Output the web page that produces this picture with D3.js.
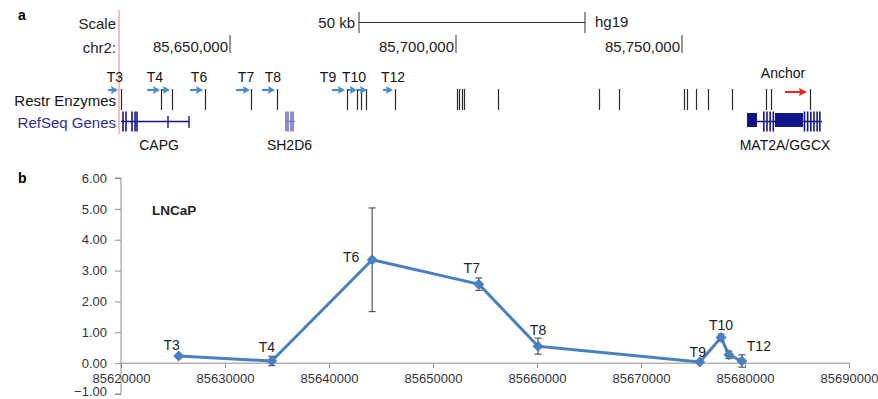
<!DOCTYPE html>
<html><head><meta charset="utf-8">
<script src="https://cdn.jsdelivr.net/npm/d3@7"></script>
<style>
html,body{margin:0;padding:0;background:#fff;}
svg{display:block;font-family:"Liberation Sans",Arial,sans-serif;}
</style></head>
<body><svg id="c" width="878" height="399"></svg>
<script>
// ---------- Panel a data (genomic coordinates, hg19 chr2) ----------
const chrTicks = [85650000, 85700000, 85750000];
const scaleBarStart = 85678540;
const scaleBarLength = 50000;
const highlightPos = 85625450;
const siteLabels = ["T3","T4","T6","T7","T8","T9","T10","T12"];
const siteLabelPos = [85624557, 85633407, 85643142, 85653540, 85659513, 85671682, 85677434, 85686062];
const arrowStarts = [85623009, 85631637, 85634956, 85641150, 85651327, 85657080, 85672566, 85676106, 85678319, 85683850];
const arrowEnds   = [85625221, 85634513, 85636726, 85644027, 85654425, 85659956, 85675443, 85678097, 85680310, 85686062];
const restrSites = [85625885, 85634735, 85637168, 85644469, 85654646, 85660398, 85675885, 85678097,
  85678982, 85680088, 85686504, 85700221, 85700664, 85701327, 85701770, 85709292, 85731637,
  85736062, 85750442, 85751106, 85753097, 85755752, 85761062, 85768584, 85769690, 85778319];
const anchorStart = 85772790, anchorEnd = 85777660, anchorLabelPos = 85772350;
// genes: name, span, tall exon bars, mid bars, thick blocks, label position
const geneNames = ["CAPG", "SH2D6", "MAT2A/GGCX"];
const geneSpans = [[85625885, 85640930], [85662170, 85664380], [85764381, 85780974]];
const geneLabelPos = [85634300, 85663160, 85772800];
const geneTallBars = [
  [85626330, 85626990, 85628320, 85628990, 85629430],
  [85662389, 85662832, 85663495, 85663938],
  [85768100, 85768800, 85769500, 85770200, 85777100, 85777800, 85778500, 85779200, 85779900, 85780500]
];
const geneMidBars = [[85636280, 85640930], [], []];
const geneBlocks = [[], [], [[85764381, 85766593], [85770576, 85776771]]];

// ---------- Panel b data ----------
const pointLabels = ["T3","T4","T6","T7","T8","T9","T10","","T12"];
const positions = [85625550, 85634500, 85644150, 85654400, 85660100, 85675650, 85677700, 85678450, 85679700];
const values = [0.23, 0.07, 3.35, 2.56, 0.55, 0.04, 0.83, 0.27, 0.07];
const errors = [0, 0.15, 1.68, 0.2, 0.26, 0, 0.11, 0.12, 0.2];
const xTicks = [85620000, 85630000, 85640000, 85650000, 85660000, 85670000, 85680000, 85690000];
const yTicks = [-1, 0, 1, 2, 3, 4, 5, 6];
// label offsets (px) relative to each point
const labelDx = [-7, -5, -21, -7, 0, -2, 0, 0, 17];
const labelDy = [-6, -9, 2, -11, -11, -5, -8, 0, -10];

const svg = d3.select("#c");

// ================= Panel a =================
const gx = d3.scaleLinear().domain([85650000, 85700000]).range([230, 456]);
const A = svg.append("g");
A.append("text").attr("x", 18).attr("y", 20).attr("font-size", 14).attr("font-weight", "bold").text("a");

// highlight line
A.append("line").attr("x1", gx(highlightPos)).attr("x2", gx(highlightPos)).attr("y1", 10).attr("y2", 134)
  .attr("stroke", "#f4a8a8").attr("stroke-width", 1.5);

const leftLabels = [["Scale", 29, "#222"], ["chr2:", 53, "#222"], ["Restr Enzymes", 106, "#111"], ["RefSeq Genes", 128, "#2e2e96"]];
leftLabels.forEach(d => A.append("text").attr("x", 116).attr("y", d[1]).attr("text-anchor", "end")
  .attr("font-size", 15).attr("fill", d[2]).text(d[0]));

// scale bar
const sb0 = gx(scaleBarStart), sb1 = gx(scaleBarStart + scaleBarLength);
A.append("line").attr("x1", sb0).attr("x2", sb1).attr("y1", 22.5).attr("y2", 22.5).attr("stroke", "#333");
[sb0, sb1].forEach(x => A.append("line").attr("x1", x).attr("x2", x).attr("y1", 12).attr("y2", 33).attr("stroke", "#333"));
A.append("text").attr("x", sb0 - 4).attr("y", 28).attr("text-anchor", "end").attr("font-size", 15).attr("fill", "#222").text("50 kb");
A.append("text").attr("x", sb1 + 10).attr("y", 27).attr("font-size", 15).attr("fill", "#222").text("hg19");

// chr ticks
const fmt = d3.format(",");
chrTicks.forEach(t => {
  A.append("line").attr("x1", gx(t)).attr("x2", gx(t)).attr("y1", 35).attr("y2", 53).attr("stroke", "#333");
  A.append("text").attr("x", gx(t) - 2).attr("y", 52).attr("text-anchor", "end").attr("font-size", 15).attr("fill", "#222").text(fmt(t));
});

// site labels
siteLabels.forEach((s, i) => A.append("text").attr("x", gx(siteLabelPos[i])).attr("y", 82)
  .attr("text-anchor", "middle").attr("font-size", 14).attr("fill", "#111").text(s));

// restriction enzyme ticks
A.selectAll(".re").data(restrSites).enter().append("line")
  .attr("x1", d => Math.round(gx(d)) + 0.5).attr("x2", d => Math.round(gx(d)) + 0.5).attr("y1", 89).attr("y2", 110)
  .attr("stroke", "#2a2a2a").attr("stroke-width", 1.2);

// blue arrows
arrowStarts.forEach((s, i) => {
  const x0 = gx(s), x1 = gx(arrowEnds[i]), y = 90;
  A.append("line").attr("x1", x0).attr("x2", x1 - 5).attr("y1", y).attr("y2", y).attr("stroke", "#4a8bd0").attr("stroke-width", 2.2);
  A.append("path").attr("d", `M${x1},${y} L${x1 - 7},${y - 4} L${x1 - 6},${y} L${x1 - 7},${y + 4} Z`).attr("fill", "#4a8bd0");
});

// anchor
A.append("text").attr("x", gx(anchorLabelPos)).attr("y", 78).attr("text-anchor", "middle").attr("font-size", 14).attr("fill", "#111").text("Anchor");
{
  const x0 = gx(anchorStart), x1 = gx(anchorEnd), y = 92;
  A.append("line").attr("x1", x0).attr("x2", x1 - 5).attr("y1", y).attr("y2", y).attr("stroke", "#ee2222").attr("stroke-width", 2);
  A.append("path").attr("d", `M${x1},${y} L${x1 - 8},${y - 4} L${x1 - 7},${y} L${x1 - 8},${y + 4} Z`).attr("fill", "#ee2222");
}

// genes
geneNames.forEach((name, i) => {
  const col = i === 1 ? "#7272c8" : "#14148a";
  const [s, e] = geneSpans[i];
  A.append("line").attr("x1", gx(s)).attr("x2", gx(e)).attr("y1", 121.5).attr("y2", 121.5).attr("stroke", col).attr("stroke-width", 1.3);
  geneBlocks[i].forEach(b => A.append("rect").attr("x", gx(b[0])).attr("width", gx(b[1]) - gx(b[0]))
    .attr("y", 113).attr("height", 14).attr("fill", col));
  geneTallBars[i].forEach(b => A.append("line").attr("x1", gx(b)).attr("x2", gx(b)).attr("y1", 111.5).attr("y2", 131.5)
    .attr("stroke", col).attr("stroke-width", 1.6));
  geneMidBars[i].forEach(b => A.append("line").attr("x1", gx(b)).attr("x2", gx(b)).attr("y1", 116).attr("y2", 128)
    .attr("stroke", col).attr("stroke-width", 1.4));
  A.append("text").attr("x", gx(geneLabelPos[i])).attr("y", 150).attr("text-anchor", "middle").attr("font-size", 14).attr("fill", "#111").text(name);
});

// ================= Panel b =================
const x = d3.scaleLinear().domain([85620000, 85690000]).range([121, 849]);
const y = d3.scaleLinear().domain([-1, 6]).range([394, 178]);
const B = svg.append("g");
B.append("text").attr("x", 18).attr("y", 183).attr("font-size", 14).attr("font-weight", "bold").text("b");

const yAxis = B.append("g").attr("transform", "translate(121,0)")
  .call(d3.axisLeft(y).tickValues(yTicks).tickFormat(d3.format(".2f")).tickSize(6).tickPadding(8));
yAxis.select(".domain").attr("stroke", "#8c8c8c").attr("d", `M-6,${y(6)}H0V${y(-1)}H-6`);
yAxis.selectAll(".tick line").attr("stroke", "#8c8c8c");
yAxis.selectAll(".tick text").attr("font-size", 13).attr("fill", "#333").attr("font-family", "Liberation Sans, Arial, sans-serif")
  .attr("dy", d => d === -1 ? "0.1em" : "0.32em");

const xAxis = B.append("g").attr("transform", `translate(0,${y(0)})`)
  .call(d3.axisBottom(x).tickValues(xTicks).tickFormat(d3.format("d")).tickSize(5).tickPadding(6));
xAxis.select(".domain").attr("stroke", "#8c8c8c").attr("d", `M${x(85620000)},0H${x(85690000)}`);
xAxis.selectAll(".tick line").attr("stroke", "#8c8c8c");
xAxis.selectAll(".tick text").attr("font-size", 13).attr("fill", "#333").attr("font-family", "Liberation Sans, Arial, sans-serif");

B.append("text").attr("x", 152).attr("y", 215).attr("font-size", 13.5).attr("font-weight", "bold").attr("fill", "#222").text("LNCaP");

const pts = positions.map((p, i) => ({p, v: values[i], e: errors[i], l: pointLabels[i], dx: labelDx[i], dy: labelDy[i]}));

// line
B.append("path").datum(pts).attr("fill", "none").attr("stroke", "#4a7fc0").attr("stroke-width", 3)
  .attr("stroke-linejoin", "round").attr("d", d3.line().x(d => x(d.p)).y(d => y(d.v)));

// error bars
pts.filter(d => d.e > 0).forEach(d => {
  const cx = x(d.p), y0 = y(d.v - d.e), y1 = y(d.v + d.e);
  B.append("line").attr("x1", cx).attr("x2", cx).attr("y1", y0).attr("y2", y1).attr("stroke", "#555").attr("stroke-width", 1.2);
  [y0, y1].forEach(yy => B.append("line").attr("x1", cx - 3.5).attr("x2", cx + 3.5).attr("y1", yy).attr("y2", yy).attr("stroke", "#555").attr("stroke-width", 1.2));
});

// markers
B.selectAll(".mk").data(pts).enter().append("path")
  .attr("d", d3.symbol(d3.symbolSquare, 60))
  .attr("transform", d => `translate(${x(d.p)},${y(d.v)}) rotate(45)`)
  .attr("fill", "#4a7fc0");

// labels
B.selectAll(".pl").data(pts.filter(d => d.l)).enter().append("text")
  .attr("x", d => x(d.p) + d.dx).attr("y", d => y(d.v) + d.dy)
  .attr("text-anchor", "middle").attr("font-size", 14).attr("fill", "#222").text(d => d.l);
</script>
</body></html>
